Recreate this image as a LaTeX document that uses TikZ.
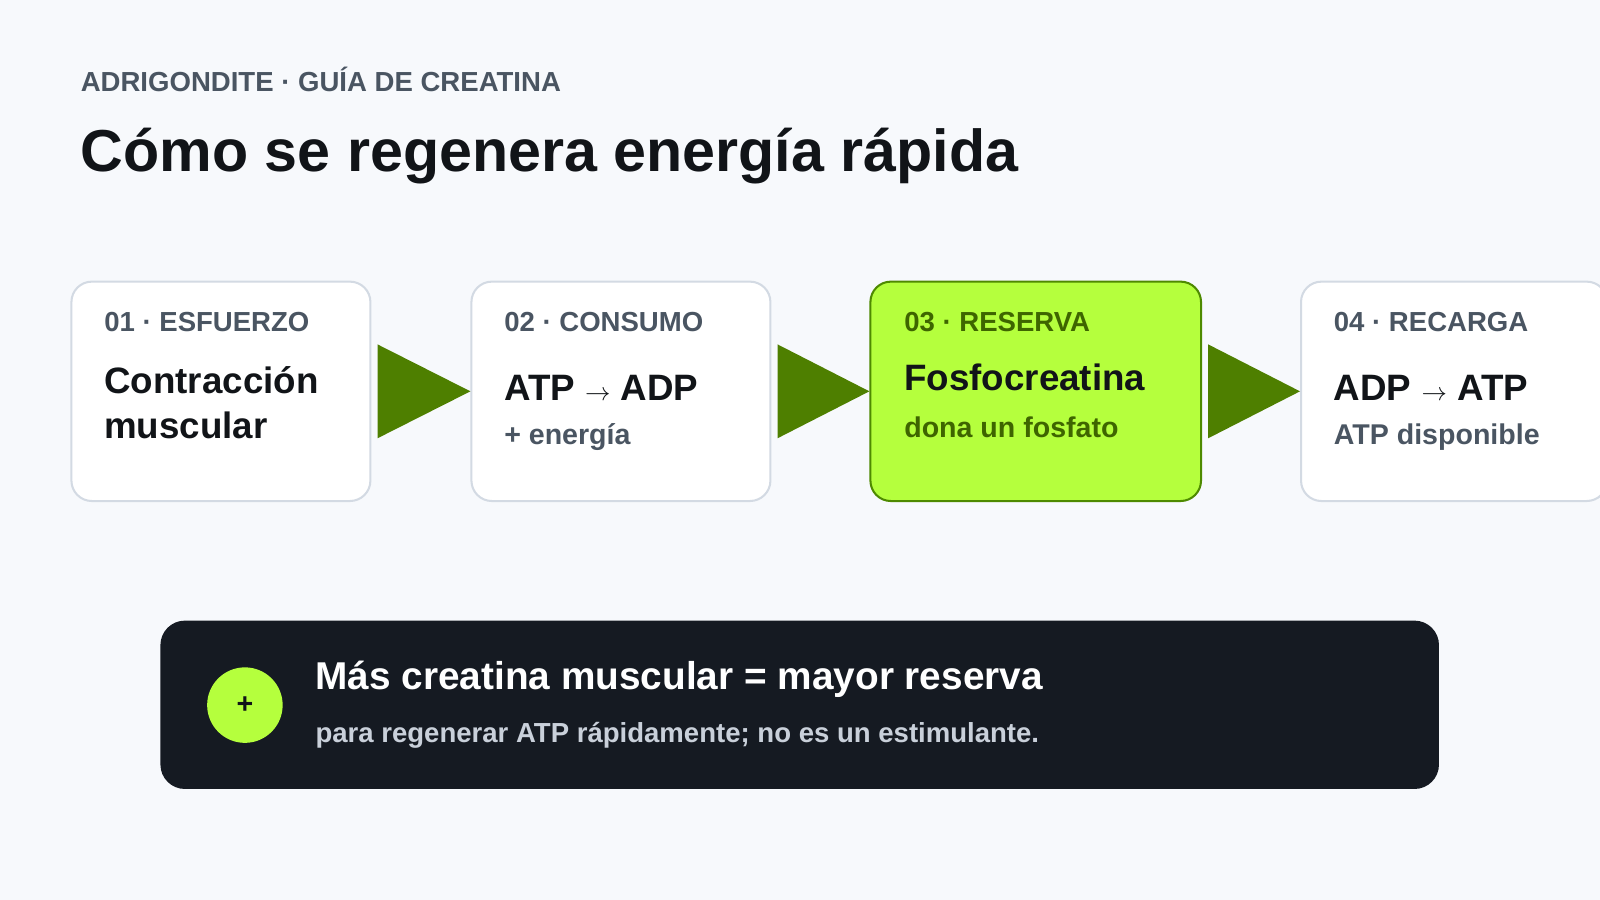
\documentclass[tikz,border=0pt]{standalone}
\usepackage{fontspec}
\setmainfont{Liberation Sans}
\usepackage{tikz}
\definecolor{bgc}{HTML}{F7F9FC}
\definecolor{edgec}{HTML}{D3DAE3}
\definecolor{leaf}{HTML}{4E7F00}
\definecolor{lime}{HTML}{B5FF3D}
\definecolor{limeedge}{HTML}{4E8A00}
\definecolor{ink}{HTML}{111418}
\definecolor{greyc}{HTML}{4A5562}
\definecolor{night}{HTML}{151A22}
\definecolor{pale}{HTML}{C9D0DA}
\tikzset{
  stage/.style={draw=edgec,line width=2pt,fill=white,rounded corners=20pt,minimum height=215pt,inner sep=0pt},
  tag/.style={anchor=base west,inner sep=0pt,text=greyc,font=\fontsize{27}{27}\selectfont\bfseries},
  big/.style={anchor=base west,inner sep=0pt,text=ink,align=left,font=\fontsize{36}{44}\selectfont\bfseries},
  small/.style={anchor=base west,inner sep=0pt,text=greyc,font=\fontsize{28}{28}\selectfont\bfseries},
  pointer/.style={fill=leaf}
}
\begin{document}
\begin{tikzpicture}[x=1pt,y=-1pt]
        \fill[bgc] (0,0) rectangle (1568,882);
        \useasboundingbox (0,0) rectangle (1568,882);

        \node[anchor=base west,inner sep=0pt,text=greyc,font=\fontsize{27}{27}\selectfont\bfseries] (kicker) at (79,90) {ADRIGONDITE · GUÍA DE CREATINA};
        \node[anchor=base west,inner sep=0pt,text=ink,font=\fontsize{58}{58}\selectfont\bfseries] (title) at (79,168) {Cómo se regenera energía rápida};

        \node[stage,minimum width=293pt,anchor=north west] (s1) at (69,275) {};
        \node[stage,minimum width=293pt,anchor=north west] (s2) at (461,275) {};
        \node[stage,minimum width=324pt,anchor=north west,fill=lime,draw=limeedge] (s3) at (852,275) {};
        \node[stage,minimum width=300pt,anchor=north west] (s4) at (1274,275) {};

        \node[tag] (t1) at (102,325) {01 · ESFUERZO};
        \node[big] (m1) at (102,386) {Contracción};
        \node[big] (n1) at (102,430) {muscular};
        \node[tag] (t2) at (494,325) {02 · CONSUMO};
        \node[big] (m2) at (494,392) {ATP $\rightarrow$ ADP};
        \node[small] (n2) at (494,436) {+ energía};
        \node[tag,text=leaf!80!black] (t3) at (886,325) {03 · RESERVA};
        \node[big] (m3) at (886,383) {Fosfocreatina};
        \node[small,text=leaf!80!black] (n3) at (886,429) {dona un fosfato};
        \node[tag] (t4) at (1307,325) {04 · RECARGA};
        \node[big] (m4) at (1307,392) {ADP $\rightarrow$ ATP};
        \node[small] (n4) at (1307,436) {ATP disponible};

        % arrows between the stages
        \fill[pointer] ([xshift=6pt,yshift=-46pt]s1.east) -- ([xshift=6pt,yshift=46pt]s1.east) -- (s2.west) -- cycle;
        \fill[pointer] ([xshift=6pt,yshift=-46pt]s2.east) -- ([xshift=6pt,yshift=46pt]s2.east) -- (s3.west) -- cycle;
        \fill[pointer] ([xshift=6pt,yshift=-46pt]s3.east) -- ([xshift=6pt,yshift=46pt]s3.east) -- (s4.west) -- cycle;

        \node[fill=night,rounded corners=24pt,minimum width=1253pt,minimum height=165pt,anchor=north west,inner sep=0pt] (note) at (157,608) {};
        \node[circle,fill=lime,minimum size=74pt,inner sep=0pt,text=ink,font=\fontsize{28}{28}\selectfont\bfseries] (plus) at (240,691) {+};
        \node[anchor=base west,inner sep=0pt,text=white,font=\fontsize{38}{38}\selectfont\bfseries] (headline) at (309,676) {Más creatina muscular = mayor reserva};
        \node[anchor=base west,inner sep=0pt,text=pale,font=\fontsize{27}{27}\selectfont\bfseries] (detail) at (309,728) {para regenerar ATP rápidamente; no es un estimulante.};
\end{tikzpicture}
\end{document}
